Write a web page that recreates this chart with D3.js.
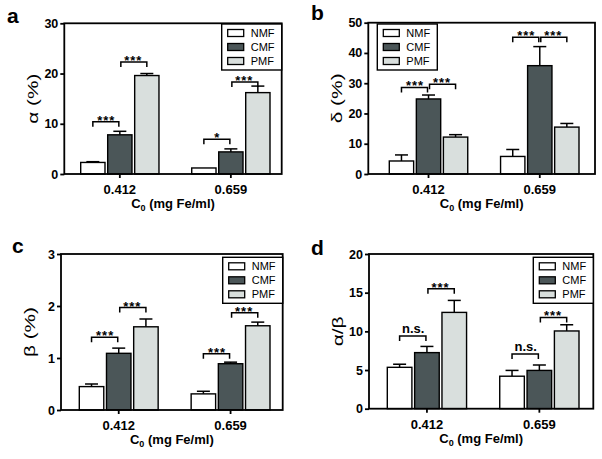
<!DOCTYPE html>
<html>
<head>
<meta charset="utf-8">
<script src="https://cdn.jsdelivr.net/npm/d3@7"></script>
<style>
  body { margin: 0; background: #fff; }
  text { font-family: "Liberation Sans", Arial, sans-serif; }
</style>
</head>
<body>
<div id="chart"></div>
<script>
// categories
var groups = ["0.412", "0.659"];
var seriesNames = ["NMF", "CMF", "PMF"];
var seriesColors = ["#ffffff", "#4b5658", "#d9dfdd"];

// means and error (upper SEM) per group, order NMF, CMF, PMF
var alphaMeans = [[2.3, 7.8, 19.6], [1.2, 4.4, 16.2]];
var alphaErrs  = [[0.15, 0.7, 0.4], [0, 0.6, 1.3]];
var deltaMeans = [[4.3, 24.8, 12.2], [5.8, 35.8, 15.5]];
var deltaErrs  = [[2.0, 1.3, 0.8], [2.3, 6.3, 1.2]];
var betaMeans  = [[0.45, 1.09, 1.60], [0.31, 0.89, 1.62]];
var betaErrs   = [[0.05, 0.10, 0.15], [0.05, 0.03, 0.07]];
var ratioMeans = [[5.35, 7.25, 12.45], [4.2, 4.95, 10.05]];
var ratioErrs  = [[0.4, 0.8, 1.55], [0.75, 0.7, 0.8]];

// significance brackets: [group, from series, to series, level, label]
var alphaSig = [[0, 0, 1, 10.4, "***"], [0, 1, 2, 22.3, "***"], [1, 0, 1, 6.9, "*"], [1, 1, 2, 18.3, "***"]];
var deltaSig = [[0, 0, 1, 28.6, "***"], [0, 1, 2, 29.7, "***"], [1, 0, 1, 45.2, "***"], [1, 1, 2, 45.2, "***"]];
var betaSig  = [[0, 0, 1, 1.40, "***"], [0, 1, 2, 1.97, "***"], [1, 0, 1, 1.08, "***"], [1, 1, 2, 1.87, "***"]];
var ratioSig = [[0, 0, 1, 9.4, "n.s."], [0, 1, 2, 15.5, "***"], [1, 0, 1, 7.07, "n.s."], [1, 1, 2, 11.8, "***"]];

// y axis ticks
var alphaTicks = [0, 10, 20, 30];
var deltaTicks = [0, 10, 20, 30, 40, 50];
var betaTicks  = [0, 1, 2, 3];
var ratioTicks = [0, 5, 10, 15, 20];

var svg = d3.select("#chart").append("svg").attr("width", 602).attr("height", 459);

var panels = [
  { letter: "a", lx: 7, ly: 23, yTitle: "α (%)", titleLen: 50, means: alphaMeans, errs: alphaErrs, sig: alphaSig, ticks: alphaTicks,
    left: 64.3, right: 281.7, top: 23.3, bottom: 174, padL: 16.4, padR: 11.7, legendSide: "right", legendTop: 0.7 },
  { letter: "b", lx: 311, ly: 20, yTitle: "δ (%)", titleLen: 50, means: deltaMeans, errs: deltaErrs, sig: deltaSig, ticks: deltaTicks,
    left: 368.3, right: 595, top: 22.7, bottom: 174, padL: 21, padR: 16, legendSide: "left", legendTop: 1.3 },
  { letter: "c", lx: 12, ly: 253, yTitle: "β (%)", titleLen: 50, means: betaMeans, errs: betaErrs, sig: betaSig, ticks: betaTicks,
    left: 61, right: 282.7, top: 254, bottom: 410, padL: 18.3, padR: 12.7, legendSide: "right", legendTop: 3.3 },
  { letter: "d", lx: 311, ly: 255, yTitle: "α/β", titleLen: 30, means: ratioMeans, errs: ratioErrs, sig: ratioSig, ticks: ratioTicks,
    left: 369, right: 593.3, top: 254, bottom: 408.7, padL: 18.3, padR: 14.3, legendSide: "right", legendTop: 3.3 }
];

panels.forEach(function (p) {
  var g = svg.append("g");

  var x = d3.scaleBand().domain(groups)
    .range([p.left + p.padL, p.right - p.padR])
    .paddingInner(0.295).paddingOuter(0);
  var xs = d3.scaleBand().domain(seriesNames)
    .range([0, x.bandwidth()]).paddingInner(0.1).paddingOuter(0);
  var y = d3.scaleLinear()
    .domain([0, d3.max(p.ticks)])
    .range([p.bottom, p.top]);

  // panel letter
  svg.append("text").attr("x", p.lx).attr("y", p.ly)
    .attr("font-size", 21).attr("font-weight", "bold").text(p.letter);

  // bars
  var rows = [];
  groups.forEach(function (grp, gi) {
    seriesNames.forEach(function (s, si) {
      rows.push({ group: grp, series: s, si: si, value: p.means[gi][si], err: p.errs[gi][si] });
    });
  });

  // error bars (upper only)
  var eb = g.append("g").selectAll("g").data(rows.filter(function (d) { return d.err > 0; })).enter().append("g");
  eb.append("line")
    .attr("x1", function (d) { return x(d.group) + xs(d.series) + xs.bandwidth() / 2; })
    .attr("x2", function (d) { return x(d.group) + xs(d.series) + xs.bandwidth() / 2; })
    .attr("y1", function (d) { return y(d.value); })
    .attr("y2", function (d) { return y(d.value + d.err); })
    .attr("stroke", "#000").attr("stroke-width", 1.5);
  eb.append("line")
    .attr("x1", function (d) { return x(d.group) + xs(d.series) + xs.bandwidth() / 2 - 6.5; })
    .attr("x2", function (d) { return x(d.group) + xs(d.series) + xs.bandwidth() / 2 + 6.5; })
    .attr("y1", function (d) { return y(d.value + d.err); })
    .attr("y2", function (d) { return y(d.value + d.err); })
    .attr("stroke", "#000").attr("stroke-width", 1.5);

  g.append("g").selectAll("rect").data(rows).enter().append("rect")
    .attr("x", function (d) { return x(d.group) + xs(d.series); })
    .attr("y", function (d) { return y(d.value); })
    .attr("width", xs.bandwidth())
    .attr("height", function (d) { return y(0) - y(d.value); })
    .attr("fill", function (d) { return seriesColors[d.si]; })
    .attr("stroke", "#000").attr("stroke-width", 1.4);

  // significance brackets
  var sg = g.append("g").selectAll("g").data(p.sig).enter().append("g");
  sg.append("path")
    .attr("d", function (d) {
      var grp = groups[d[0]];
      var x1 = x(grp) + xs(seriesNames[d[1]]) + xs.bandwidth() / 2 + (d[1] === 1 ? 1 : 0);
      var x2 = x(grp) + xs(seriesNames[d[2]]) + xs.bandwidth() / 2 - (d[2] === 1 ? 1 : 0);
      var yy = y(d[3]);
      return "M" + x1 + "," + (yy + 5) + "V" + yy + "H" + x2 + "V" + (yy + 5);
    })
    .attr("fill", "none").attr("stroke", "#000").attr("stroke-width", 1.5);
  sg.append("text")
    .attr("x", function (d) {
      var grp = groups[d[0]];
      return x(grp) + (xs(seriesNames[d[1]]) + xs(seriesNames[d[2]]) + xs.bandwidth()) / 2;
    })
    .attr("y", function (d) { return y(d[3]) + (d[4] === "n.s." ? -3 : 3); })
    .attr("text-anchor", "middle")
    .attr("font-size", 13).attr("font-weight", "bold")
    .attr("letter-spacing", function (d) { return d[4] === "n.s." ? 0 : 1; })
    .text(function (d) { return d[4]; });

  // frame
  g.append("rect")
    .attr("x", p.left).attr("y", p.top)
    .attr("width", p.right - p.left).attr("height", p.bottom - p.top)
    .attr("fill", "none").attr("stroke", "#000").attr("stroke-width", 1.8);

  // y axis
  var ya = g.append("g").attr("transform", "translate(" + p.left + ",0)")
    .call(d3.axisLeft(y).tickValues(p.ticks).tickSize(4).tickPadding(2).tickFormat(d3.format("d")));
  ya.select(".domain").remove();
  ya.selectAll(".tick line").attr("stroke-width", 1.8);
  ya.selectAll("text").attr("font-size", 12.5).attr("font-weight", "bold")
    .attr("font-family", "Liberation Sans, Arial, sans-serif").attr("fill", "#000");

  // x axis
  var xa = g.append("g").attr("transform", "translate(0," + p.bottom + ")")
    .call(d3.axisBottom(x).tickSize(4));
  xa.select(".domain").remove();
  xa.selectAll(".tick line").attr("stroke-width", 1.8);
  xa.selectAll("text").attr("y", 20).attr("dy", null)
    .attr("font-size", 13).attr("font-weight", "bold")
    .attr("font-family", "Liberation Sans, Arial, sans-serif").attr("fill", "#000");

  // x title
  var xt = g.append("text")
    .attr("x", (p.left + p.right) / 2).attr("y", p.bottom + 34)
    .attr("text-anchor", "middle").attr("font-size", 13).attr("font-weight", "bold");
  xt.append("tspan").text("C");
  xt.append("tspan").attr("font-size", 9).attr("dy", 3).text("0");
  xt.append("tspan").attr("dy", -3).text(" (mg Fe/ml)");

  // y title
  g.append("text")
    .attr("transform", "translate(" + (p.left - 31) + "," + ((p.top + p.bottom) / 2) + ") rotate(-90)")
    .attr("text-anchor", "middle").attr("dominant-baseline", "central")
    .attr("font-family", "Liberation Serif, Times New Roman, serif")
    .attr("font-size", 14)
    .attr("textLength", p.titleLen).attr("lengthAdjust", "spacingAndGlyphs")
    .text(p.yTitle);

  // legend
  var lw = 60, lh = 46;
  var lx = p.legendSide === "right" ? p.right - lw : p.left + 9;
  var ly = p.top + p.legendTop;
  var lg = g.append("g").attr("transform", "translate(" + lx + "," + ly + ")");
  lg.append("rect").attr("width", lw).attr("height", lh)
    .attr("fill", "#fff").attr("stroke", "#000").attr("stroke-width", 1.4);
  var li = lg.selectAll("g.item").data(seriesNames).enter().append("g")
    .attr("transform", function (d, i) { return "translate(0," + (9 + i * 14) + ")"; });
  li.append("rect").attr("x", 6).attr("y", -3.5).attr("width", 16).attr("height", 7)
    .attr("fill", function (d, i) { return seriesColors[i]; })
    .attr("stroke", "#000").attr("stroke-width", 1.3);
  li.append("text").attr("x", 29).attr("y", 4).attr("font-size", 11).text(function (d) { return d; });
});
</script>
</body>
</html>
